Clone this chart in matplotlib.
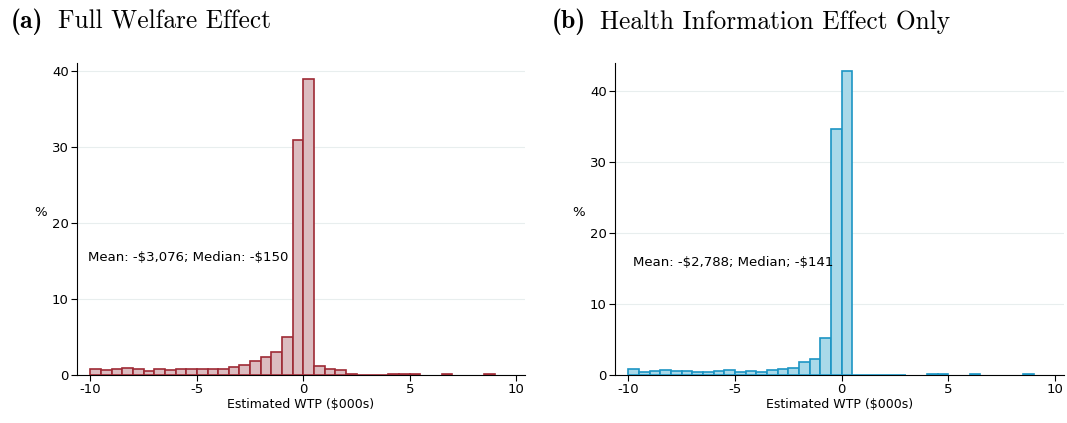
import numpy as np
import matplotlib
matplotlib.use('Agg')
import matplotlib.pyplot as plt

# Ширина бина 0.5 (тыс. $), от -10 до 10
bin_edges = np.arange(-10, 10.01, 0.5)

# Проценты по бинам (40 бинов)
full_pct = [0.83, 0.61, 0.75, 0.88, 0.79, 0.53, 0.83, 0.70, 0.75, 0.83,
            0.79, 0.75, 0.83, 1.10, 1.27, 1.80, 2.30, 3.00, 4.96, 30.9,
            38.9, 1.14, 0.83, 0.66, 0.12, 0.05, 0.05, 0.05, 0.08, 0.08,
            0.08, 0.0, 0.0, 0.10, 0.0, 0.0, 0.0, 0.10, 0.0, 0.0]
health_pct = [0.89, 0.47, 0.52, 0.75, 0.61, 0.61, 0.47, 0.47, 0.56, 0.66,
              0.47, 0.56, 0.47, 0.75, 0.80, 1.03, 1.79, 2.30, 5.26, 34.6,
              42.8, 0.05, 0.05, 0.05, 0.05, 0.05, 0.0, 0.0, 0.08, 0.08,
              0.0, 0.0, 0.08, 0.0, 0.0, 0.0, 0.0, 0.08, 0.0, 0.0]

titles = ["Full Welfare Effect", "Health Information Effect Only"]
labels = ["(a)", "(b)"]
notes = [r"Mean: -\$3,076; Median: -\$150", r"Mean: -\$2,788; Median; -\$141"]
yticks = [[0, 10, 20, 30, 40], [0, 10, 20, 30, 40]]
xticks = [-10, -5, 0, 5, 10]

plt.rcParams['axes.unicode_minus'] = False
plt.rcParams['font.family'] = 'DejaVu Sans'

fig = plt.figure(figsize=(10.67, 4.23), dpi=100)

panels = [
    dict(rect=[0.0722, 0.1135, 0.4198, 0.7375], data=full_pct, ylim=41.0,
         face='#dcbcc0', edge='#9e2a35', note_xy=(-10.1, 15.4)),
    dict(rect=[0.5764, 0.1135, 0.4206, 0.7375], data=health_pct, ylim=43.9,
         face='#a9d9e9', edge='#1c95c4', note_xy=(-9.8, 15.9)),
]

for i, p in enumerate(panels):
    ax = fig.add_axes(p['rect'])
    vals = np.array(p['data'])
    keep = vals > 0  # пустые бины не рисуем
    ax.bar(bin_edges[:-1][keep], vals[keep], width=0.5, align='edge',
           color=p['face'], edgecolor=p['edge'], linewidth=1.2, zorder=3)
    ax.set_xlim(-10.63, 10.41)
    ax.set_ylim(0, p['ylim'])
    ax.set_xticks(xticks)
    ax.set_yticks(yticks[i])
    ax.grid(axis='y', color='#e8eeee', linewidth=0.8, zorder=0)
    for s in ['top', 'right']:
        ax.spines[s].set_visible(False)
    ax.tick_params(labelsize=9.5, direction='out', length=4, pad=2)
    ax.set_xlabel("Estimated WTP (\\$000s)", fontsize=9, labelpad=1)
    ax.set_ylabel("%", fontsize=9.5, rotation=0, labelpad=8)
    ax.text(p['note_xy'][0], p['note_xy'][1], notes[i], fontsize=9.5,
            ha='left', va='center', zorder=4)

# Заголовки панелей
for x_lab, x_title, lab, title in zip([11, 552], [58, 600], labels, titles):
    fig.text(x_lab / 1067, 1 - 22 / 423, lab, fontsize=18.5, family='cmb10',
             va='center', ha='left')
    fig.text(x_title / 1067, 1 - 22 / 423, title,
             fontsize=18.3, family='cmr10', va='center', ha='left')

fig.savefig('out.png', dpi=100)
